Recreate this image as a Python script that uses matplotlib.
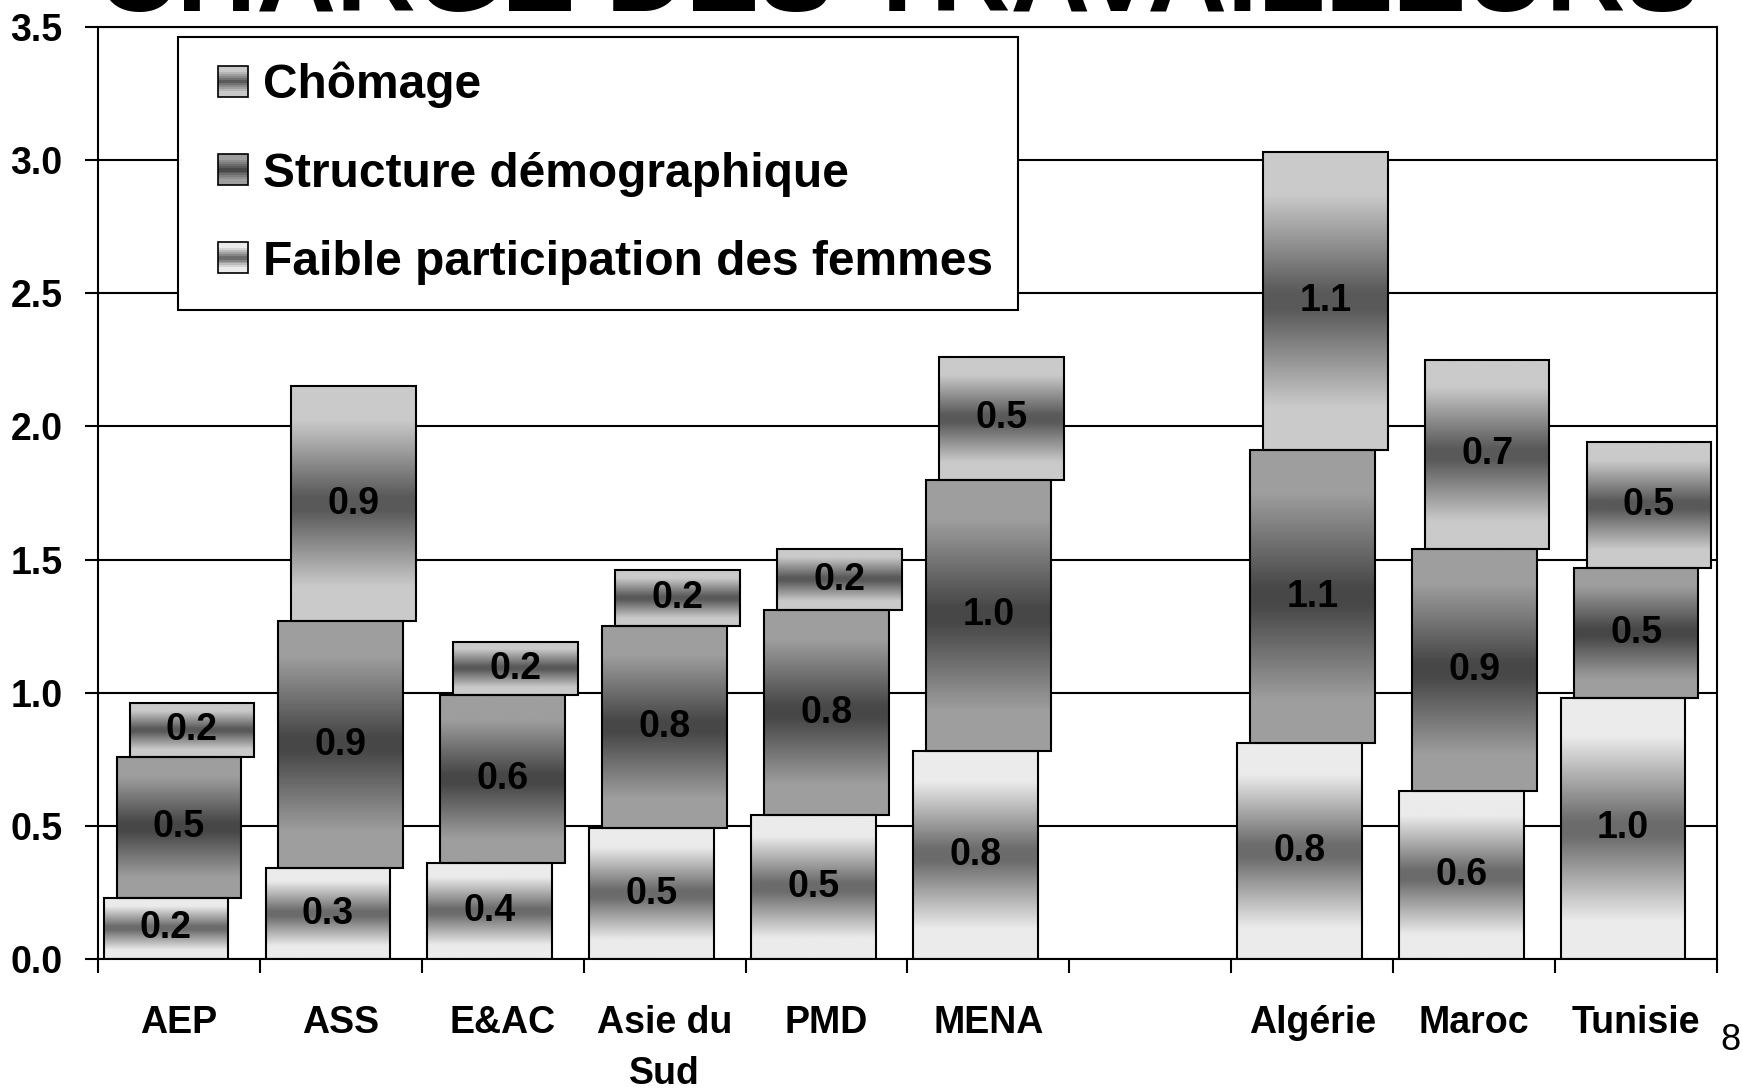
import numpy as np
import matplotlib
matplotlib.use('Agg')
import matplotlib.pyplot as plt
from matplotlib.patches import Rectangle
from matplotlib.legend_handler import HandlerBase

plt.rcParams['font.family'] = ['Liberation Sans', 'DejaVu Sans']
plt.rcParams['font.weight'] = 'bold'

# regions; the blank slot between MENA and the Maghreb countries is kept empty
categories = ['AEP', 'ASS', 'E&AC', 'Asie du\nSud', 'PMD', 'MENA', '', 'Algérie', 'Maroc', 'Tunisie']
faible = [0.23, 0.34, 0.36, 0.49, 0.54, 0.78, None, 0.81, 0.63, 0.98]
structure = [0.53, 0.93, 0.63, 0.76, 0.77, 1.02, None, 1.10, 0.91, 0.49]
chomage = [0.20, 0.88, 0.20, 0.21, 0.23, 0.46, None, 1.12, 0.71, 0.47]
series_names = ['Faible participation des femmes', 'Structure démographique', 'Chômage']
yticks = [0.0, 0.5, 1.0, 1.5, 2.0, 2.5, 3.0, 3.5]

# grey levels (edge, centre) of the vertical gradients
shades = [(0.92, 0.42), (0.62, 0.28), (0.79, 0.35)]


def shade(n, edge, center):
    t = np.abs(np.linspace(-1, 1, n))
    s = np.clip((t - 0.06) / 0.66, 0, 1)
    return center + (edge - center) * s


class GradHandler(HandlerBase):
    def __init__(self, edge, center):
        super().__init__()
        self.edge = edge
        self.center = center

    def create_artists(self, legend, orig_handle, xdescent, ydescent,
                       width, height, fontsize, trans):
        size = height
        x0 = -xdescent + width - size
        y0 = -ydescent
        n = 16
        g = shade(n, self.edge, self.center)
        arts = []
        for i in range(n):
            arts.append(Rectangle((x0, y0 + i * size / n), size, size / n * 1.05,
                                  facecolor=(g[i], g[i], g[i]), edgecolor='none',
                                  transform=trans))
        arts.append(Rectangle((x0, y0), size, size, facecolor='none',
                              edgecolor='black', lw=1.2, transform=trans))
        return arts


fig = plt.figure(figsize=(17.43, 10.89), dpi=100)
ax = fig.add_axes([0.0562, 0.1194, 0.9289, 0.8558])

x = np.arange(len(categories))
width = 0.77
offsets = [-0.08, 0.0, 0.08]
bottom = np.zeros(len(categories))

for k, vals in enumerate([faible, structure, chomage]):
    idx = [i for i, v in enumerate(vals) if v is not None]
    v = np.array([vals[i] for i in idx])
    bars = ax.bar(x[idx] + offsets[k], v, width, bottom=bottom[idx],
                  facecolor='none', edgecolor='black', lw=1.5, zorder=3)
    grad = shade(64, *shades[k]).reshape(-1, 1)
    for b, val in zip(bars, v):
        x0, y0 = b.get_x(), b.get_y()
        ax.imshow(grad, cmap='gray', vmin=0, vmax=1, origin='lower', aspect='auto',
                  interpolation='bilinear', zorder=2,
                  extent=[x0, x0 + b.get_width(), y0, y0 + b.get_height()])
        ax.text(x0 + b.get_width() / 2, y0 + b.get_height() / 2, f'{val:.1f}',
                ha='center', va='center', fontsize=27, fontweight='bold', zorder=4)
    bottom[idx] += v

ax.set_xlim(-0.5, len(categories) - 0.5)
ax.set_ylim(0, 3.5)

ax.set_yticks(yticks)
ax.set_yticklabels([f'{t:.1f}' for t in yticks])
ax.yaxis.grid(True, color='black', lw=1.5)
ax.set_axisbelow(True)
ax.tick_params(axis='y', direction='out', length=9.4, width=1.5, pad=16, labelsize=27)

ax.set_xticks(np.arange(len(categories) + 1) - 0.5)
ax.set_xticklabels([])
ax.set_xticks(x, minor=True)
ax.set_xticklabels(categories, minor=True)
ax.tick_params(axis='x', which='major', direction='out', length=10, width=1.5)
ax.tick_params(axis='x', which='minor', length=0, pad=33, labelsize=27)
for lbl in ax.get_xticklabels(minor=True):
    lbl.set_linespacing(1.55)

for sp in ax.spines.values():
    sp.set_linewidth(1.5)
    sp.set_color('black')

handles = []
hmap = {}
for k in [2, 1, 0]:
    h = Rectangle((0, 0), 1, 1, label=series_names[k])
    handles.append(h)
    hmap[h] = GradHandler(*shades[k])

leg = ax.legend(handles=handles, handler_map=hmap, loc='upper left',
                bbox_to_anchor=(0.0494, 0.9893), borderaxespad=0,
                prop={'size': 34.5, 'weight': 'bold'}, fancybox=False, framealpha=1,
                edgecolor='black', borderpad=0.52, labelspacing=0.9,
                handlelength=0.95, handleheight=0.605, handletextpad=0.3)
leg.get_frame().set_linewidth(1.5)
leg.set_zorder(5)

fig.text(0.5152, 0.990, 'CHARGE DES TRAVAILLEURS', ha='center', va='baseline',
         fontsize=79.5, fontweight='bold')
fig.text(0.9985, 0.036, '8', ha='right', va='baseline', fontsize=26, fontweight='normal')

fig.savefig('out.png', dpi=100)
